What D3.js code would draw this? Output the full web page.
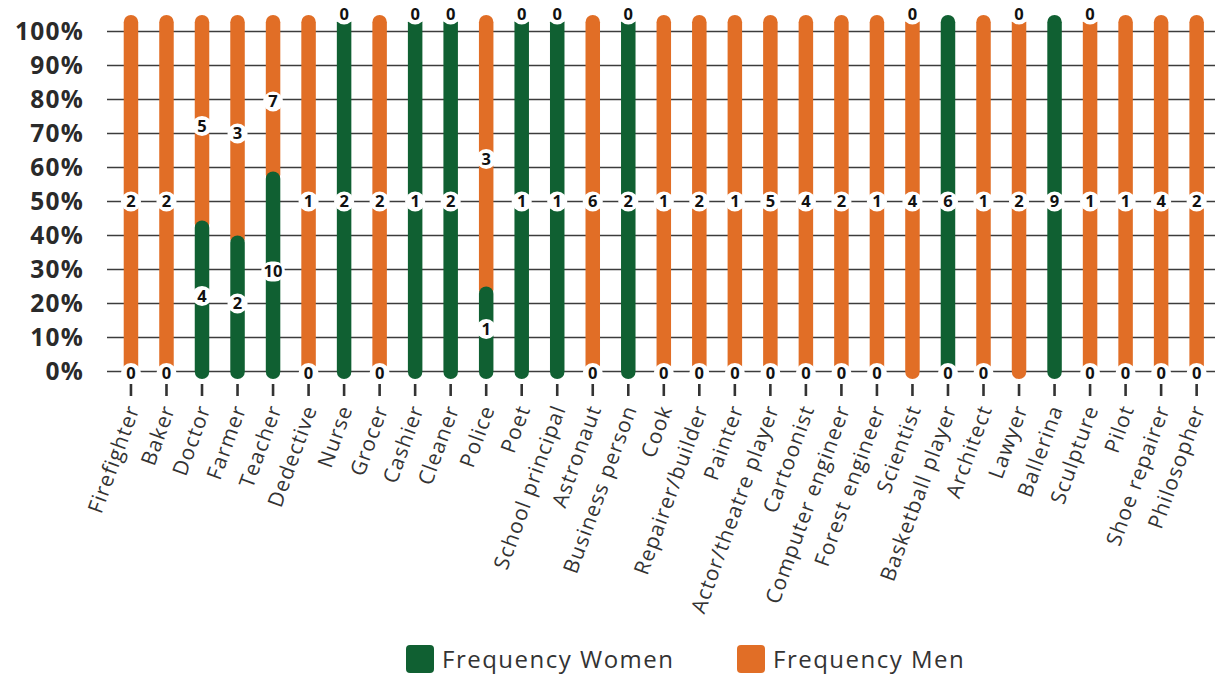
<!DOCTYPE html>
<html>
<head>
<meta charset="utf-8">
<script src="https://cdn.jsdelivr.net/npm/d3@7"></script>
<style>
  html, body { margin: 0; padding: 0; background: #fff; }
  svg { display: block; }
</style>
</head>
<body>
<svg id="chart" width="1215" height="675"></svg>
<script>
// Occupations named by children, split by gender (100% stacked)
const categories = [
  "Firefighter", "Baker", "Doctor", "Farmer", "Teacher", "Dedective", "Nurse",
  "Grocer", "Cashier", "Cleaner", "Police", "Poet", "School principal",
  "Astronaut", "Business person", "Cook", "Repairer/builder", "Painter",
  "Actor/theatre player", "Cartoonist", "Computer engineer", "Forest engineer",
  "Scientist", "Basketball player", "Architect", "Lawyer", "Ballerina",
  "Sculpture", "Pilot", "Shoe repairer", "Philosopher"
];
const women = [0, 0, 4, 2, 10, 0, 2, 0, 1, 2, 1, 1, 1, 0, 2, 0, 0, 0, 0, 0, 0, 0, 0, 6, 0, 0, 9, 0, 0, 0, 0];
const men   = [2, 2, 5, 3, 7, 1, 0, 2, 0, 0, 3, 0, 0, 6, 0, 1, 2, 1, 5, 4, 2, 1, 4, 0, 1, 2, null, 1, 1, 4, 2];
// Stacking order from bottom to top (W = women, M = men)
const stackOrder = [
  "WM", "WM", "WM", "WM", "WM", "WM", "WM", "WM", "WM", "WM", "WM", "WM", "WM",
  "WM", "WM", "WM", "WM", "WM", "WM", "WM", "WM", "WM", "MW", "MW", "WM", "MW",
  "WM", "WMW", "WM", "WM", "WM"
];
const yTicks = [0, 10, 20, 30, 40, 50, 60, 70, 80, 90, 100];
const seriesNames = ["Frequency Women", "Frequency Men"];
const seriesColors = { W: "#106032", M: "#e16e26" };

const svg = d3.select("#chart");
const fontAxis = "'Open Sans', 'DejaVu Sans', sans-serif";

const x = d3.scaleBand().domain(categories).range([113.2, 1214.4]).padding(0);
const y = d3.scaleLinear().domain([0, 100]).range([371.5, 31.5]);

// gridlines
svg.append("g")
  .selectAll("line")
  .data(yTicks)
  .join("line")
  .attr("x1", 107).attr("x2", 1215)
  .attr("y1", d => y(d)).attr("y2", d => y(d))
  .attr("stroke", "#3c3c3c").attr("stroke-width", 1.3);

// y axis labels
const yAxis = d3.axisLeft(y).tickValues(yTicks).tickFormat(d => d + "%").tickSize(0).tickPadding(0);
const yg = svg.append("g").attr("transform", "translate(84,0)").call(yAxis);
yg.select(".domain").remove();
yg.selectAll("text")
  .attr("font-family", fontAxis)
  .attr("font-size", 24.5)
  .attr("font-weight", 700)
  .attr("letter-spacing", 1.2)
  .attr("fill", "#2a2a2a");

// x axis ticks and rotated labels
const xAxis = d3.axisBottom(x).tickSize(12).tickPadding(0);
const xg = svg.append("g").attr("transform", "translate(0,384)").call(xAxis);
xg.select(".domain").remove();
xg.selectAll(".tick line").attr("stroke", "#333").attr("stroke-width", 2.6);
xg.selectAll(".tick text")
  .attr("font-family", fontAxis)
  .attr("font-size", 21)
  .attr("font-weight", 400)
  .attr("letter-spacing", 1.1)
  .attr("fill", "#333")
  .attr("text-anchor", "end")
  .attr("dy", "0.35em")
  .attr("transform", "translate(2,22) rotate(-70)")
  .attr("y", 0);

// build stacked segments
const stacks = categories.map((c, i) => {
  const vals = { W: women[i], M: men[i] };
  const total = (women[i] || 0) + (men[i] || 0);
  let acc = 0;
  const segs = [];
  for (const key of stackOrder[i]) {
    const v = vals[key];
    if (v === null || v === undefined) continue;
    const pct = total ? v / total * 100 : 0;
    segs.push({ cat: c, key, value: v, lo: acc, hi: acc + pct });
    acc += pct;
  }
  return segs;
});

const barW = 14.5;
const capBottom = 7.5;
const capTop = 16.5;

const bars = svg.append("g");
stacks.forEach(segs => {
  const drawn = segs.filter(s => s.value > 0).reverse();
  drawn.forEach(s => {
    const top = s.hi >= 99.99 ? y(100) - capTop : y(s.hi);
    const bottom = s.lo <= 0.01 ? y(0) + capBottom : y(s.lo) + 10;
    bars.append("rect")
      .attr("x", x(s.cat) + x.bandwidth() / 2 - barW / 2)
      .attr("width", barW)
      .attr("y", top)
      .attr("height", bottom - top)
      .attr("rx", barW / 2)
      .attr("fill", seriesColors[s.key]);
  });
});

// value labels
const labels = svg.append("g");
stacks.forEach(segs => {
  segs.forEach(s => {
    let cy;
    if (s.value === 0) {
      cy = s.lo <= 0.01 ? y(0) + 1.5 : y(100) - 17;
    } else {
      cy = (y(s.lo) + y(s.hi)) / 2;
    }
    const cx = x(s.cat) + x.bandwidth() / 2;
    const g = labels.append("g").attr("transform", `translate(${cx},${cy})`);
    const bg = g.append("rect").attr("fill", "#fff");
    const t = g.append("text")
      .attr("text-anchor", "middle")
      .attr("dy", "0.36em")
      .attr("font-family", fontAxis)
      .attr("font-size", 16.5)
      .attr("font-weight", 700)
      .attr("fill", "#111")
      .text(s.value);
    const tw = t.node().getComputedTextLength();
    const w = Math.max(20, tw + 5);
    bg.attr("x", -w / 2).attr("y", -10).attr("width", w).attr("height", 20).attr("rx", 10);
  });
});

// legend
const legend = svg.append("g");
const legendItems = [
  { name: seriesNames[0], color: seriesColors.W, x: 406 },
  { name: seriesNames[1], color: seriesColors.M, x: 737 }
];
legendItems.forEach(d => {
  legend.append("rect")
    .attr("x", d.x).attr("y", 645).attr("width", 28).attr("height", 28).attr("rx", 4)
    .attr("fill", d.color);
  legend.append("text")
    .attr("x", d.x + 36).attr("y", 668)
    .attr("font-family", fontAxis)
    .attr("font-size", 24)
    .attr("letter-spacing", 1.5)
    .attr("fill", "#333")
    .text(d.name);
});
</script>
</body>
</html>
